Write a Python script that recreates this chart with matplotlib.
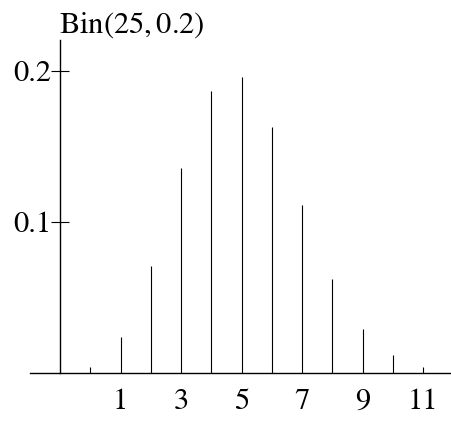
import matplotlib
matplotlib.use("Agg")
import matplotlib.pyplot as plt

# Bin(25, 0.2) probabilities
k = [0, 1, 2, 3, 4, 5, 6, 7, 8, 9, 10, 11]
prob = [0.004, 0.024, 0.071, 0.136, 0.187, 0.196, 0.163, 0.111, 0.062, 0.029, 0.012, 0.004]
xtick_vals = [1, 3, 5, 7, 9, 11]
ytick_vals = [0.1, 0.2]
ytick_labels = ["0.1", "0.2"]

plt.rcParams['font.family'] = ['STIXGeneral', 'DejaVu Serif']
plt.rcParams['mathtext.fontset'] = 'stix'

fig = plt.figure(figsize=(4.52, 4.24), dpi=100)
W, H = 452.0, 424.0
ax = fig.add_axes([30 / W, (H - 373) / H, (452 - 30) / W, (373 - 40) / H])

ax.vlines(k, 0, prob, color='black', linewidth=0.8)

ax.set_xlim(-1.99, 11.95)
ax.set_ylim(0, 0.2205)

ax.spines['top'].set_visible(False)
ax.spines['right'].set_visible(False)
ax.spines['left'].set_position(('data', -1))
ax.spines['left'].set_linewidth(1.0)
ax.spines['bottom'].set_linewidth(1.0)

ax.set_xticks(xtick_vals)
ax.set_xticklabels([str(v) for v in xtick_vals])
ax.set_yticks(ytick_vals)
ax.set_yticklabels(ytick_labels)
ax.tick_params(axis='x', length=0, pad=11, labelsize=22)
ax.tick_params(axis='y', direction='inout', length=13, width=0.8, pad=0, labelsize=22)

fig.text(59 / W, (H - 33) / H, r'$\mathrm{Bin}(25,0.2)$', fontsize=22,
         ha='left', va='baseline')

fig.savefig("out.png", dpi=100)
